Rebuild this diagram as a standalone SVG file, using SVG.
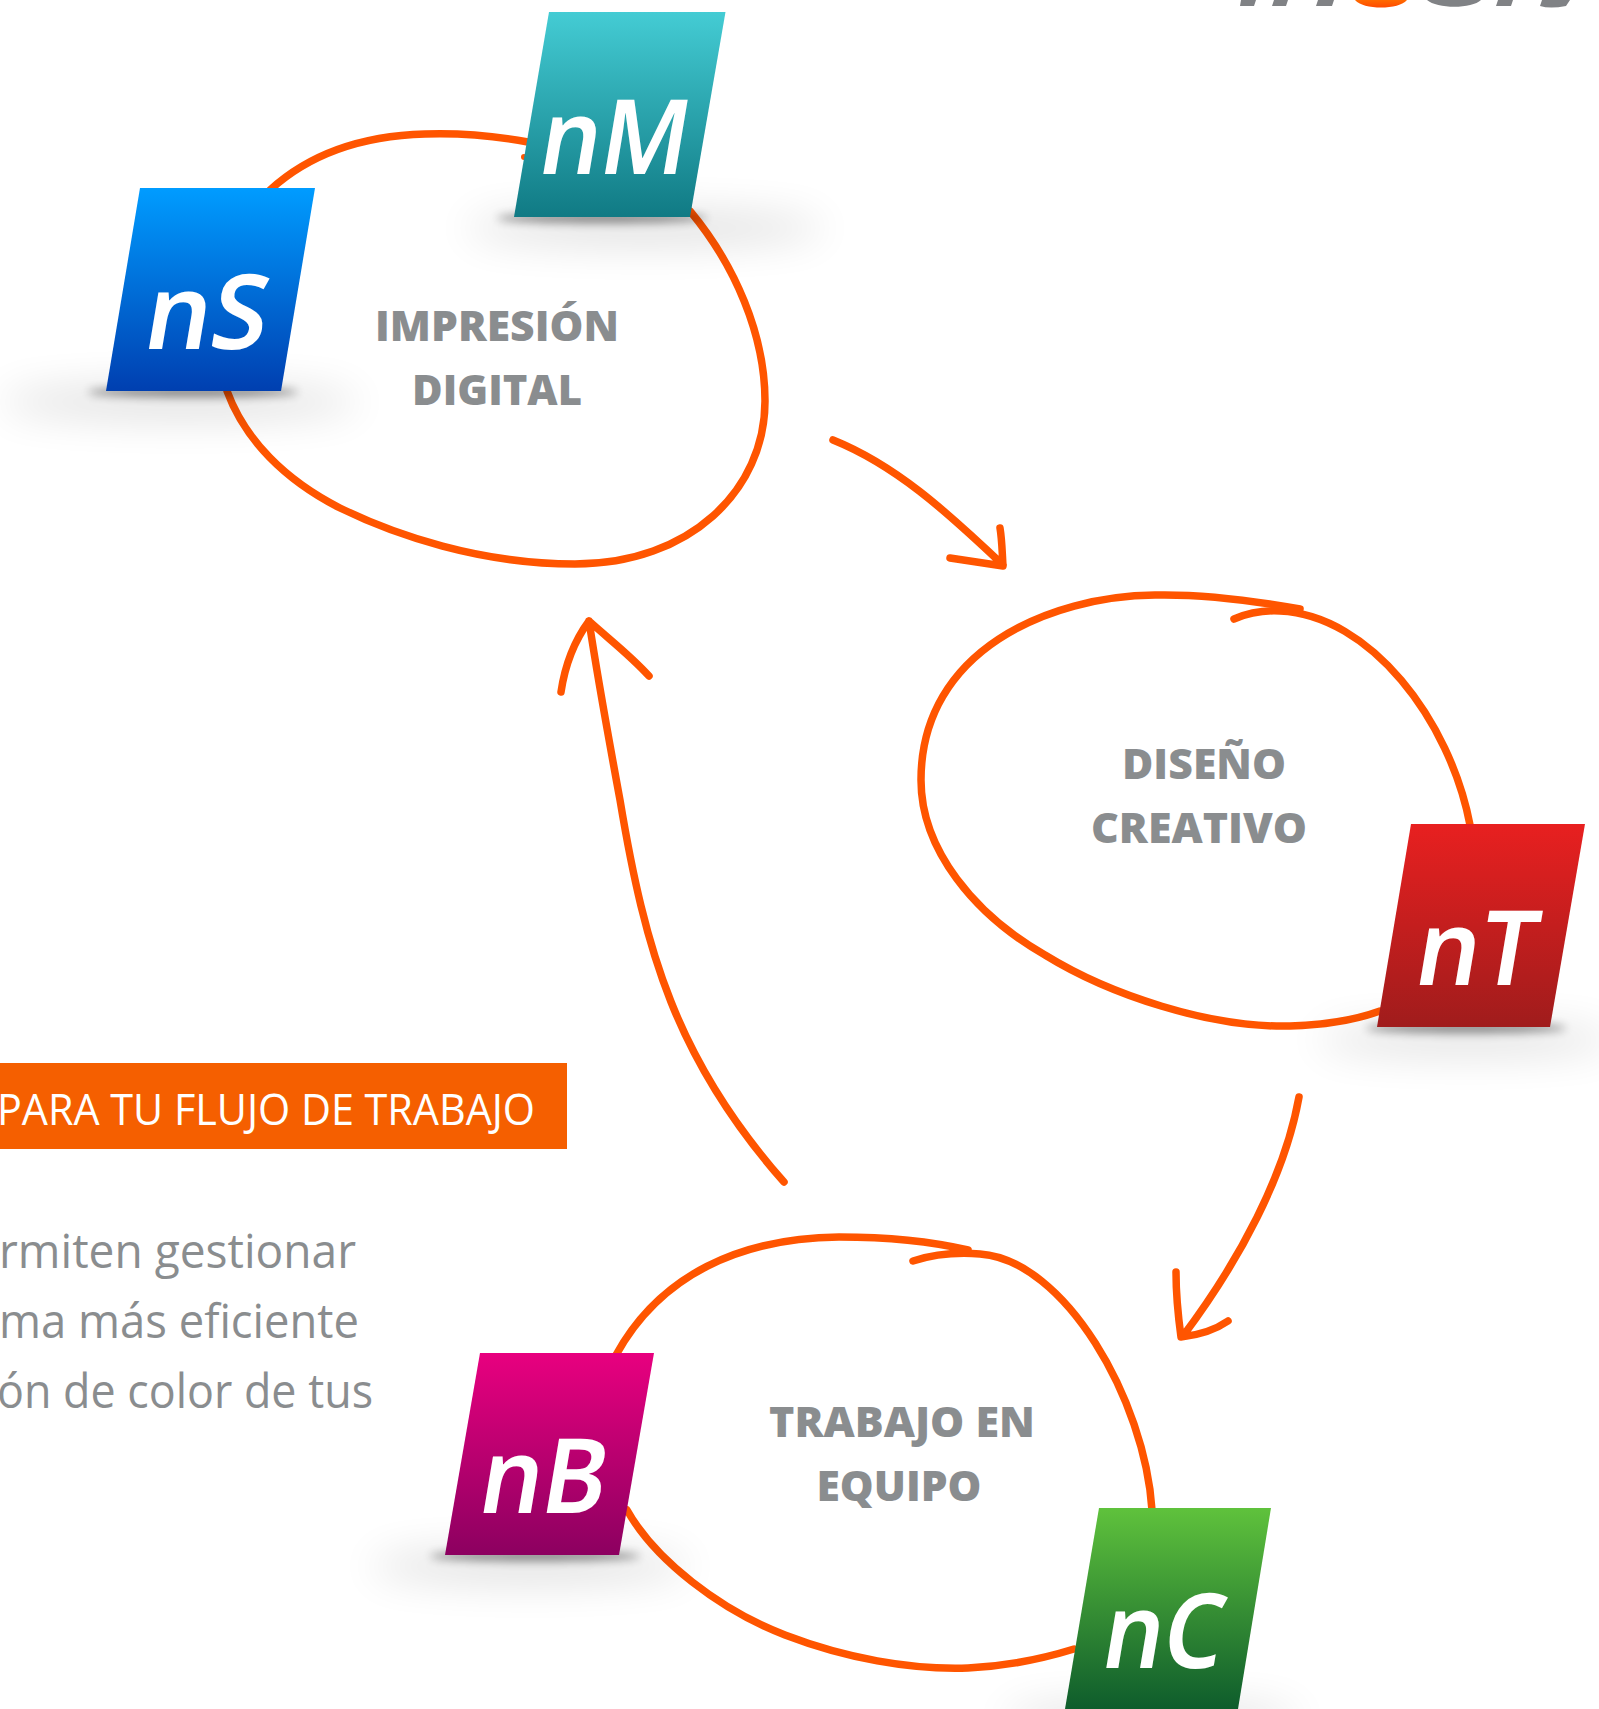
<svg xmlns="http://www.w3.org/2000/svg" width="1599" height="1709" viewBox="0 0 1599 1709">
<style>
.c{fill:none;stroke:#ff5500;stroke-width:7.5;stroke-linecap:round;stroke-linejoin:round}
.l{font-family:"Open Sans",sans-serif;font-weight:800;font-size:43px;fill:#8a8d8f;text-anchor:middle}
.b{font-family:"Open Sans",sans-serif;font-weight:400;font-size:48px;fill:#8a8d8f}
.t{font-family:"Noto Sans",sans-serif;font-weight:600;font-size:104px;fill:#fff}
</style>
<defs>
<filter id="s1" x="-50%" y="-300%" width="200%" height="700%"><feGaussianBlur stdDeviation="5"/></filter>
<filter id="s2" x="-50%" y="-300%" width="200%" height="700%"><feGaussianBlur stdDeviation="20"/></filter>
<linearGradient id="gS" x1="0" y1="0" x2="0" y2="1"><stop offset="0" stop-color="#009cff"/><stop offset="1" stop-color="#003fb0"/></linearGradient>
<linearGradient id="gM" x1="0" y1="0" x2="0" y2="1"><stop offset="0" stop-color="#44ccd4"/><stop offset="1" stop-color="#107a84"/></linearGradient>
<linearGradient id="gT" x1="0" y1="0" x2="0" y2="1"><stop offset="0" stop-color="#e82020"/><stop offset="1" stop-color="#a01c1c"/></linearGradient>
<linearGradient id="gB" x1="0" y1="0" x2="0" y2="1"><stop offset="0" stop-color="#e8007f"/><stop offset="1" stop-color="#8c0060"/></linearGradient>
<linearGradient id="gC" x1="0" y1="0" x2="0" y2="1"><stop offset="0" stop-color="#5fc23c"/><stop offset="1" stop-color="#0e5c2c"/></linearGradient>
<linearGradient id="gO" x1="0" y1="0" x2="0" y2="1"><stop offset="0" stop-color="#ff6a00"/><stop offset="1" stop-color="#ff4a00"/></linearGradient>
</defs>
<rect width="1599" height="1709" fill="#fff"/>
<g id="connectors">
<path class="c" d="M690,211C735,265 765,335 765,401C765,490 690,564 575,564C480,564 395,535 340,508C285,480 245,440 227,391"/>
<path class="c" d="M528,142C490,135 455,133 425,134C355,136 305,158 270,190"/>
<circle cx="524" cy="157" r="3" fill="#ff5500"/>
<path class="c" d="M1470,825C1450,720 1370,615 1280,611C1262,610 1248,613 1234,619"/>
<path class="c" d="M1300,609C1250,600 1200,594 1155,595C1050,596 921,650 921,780C921,850 975,915 1045,955C1110,995 1210,1028 1290,1026C1325,1025 1355,1020 1380,1011"/>
<path class="c" d="M1152,1510C1145,1400 1065,1260 980,1254C955,1252 935,1254 913,1261"/>
<path class="c" d="M968,1250C925,1240 880,1237 839,1237C740,1238 660,1275 616,1355"/>
<path class="c" d="M627,1510C655,1560 720,1610 785,1635C845,1658 910,1670 968,1668C1010,1666 1045,1658 1074,1649"/>
<path class="c" d="M833,440C895,465 945,510 1003,565M950,558L1003,566C1002,550 1002,540 1000,528"/>
<path class="c" d="M1299,1097C1285,1175 1240,1260 1183,1336M1176,1272C1176,1295 1178,1315 1181,1337C1200,1335 1215,1330 1228,1321"/>
<path class="c" d="M784,1182C676,1060 645,950 620,800C608,735 598,680 589,621M561,692C565,665 575,640 589,621C610,640 630,655 649,676"/>
</g>
<g id="shadows">
<ellipse cx="180" cy="402" rx="180" ry="16" fill="#000" opacity=".13" filter="url(#s2)"/>
<ellipse cx="193" cy="392" rx="105" ry="5" fill="#000" opacity=".45" filter="url(#s1)"/>
<ellipse cx="645" cy="228" rx="180" ry="16" fill="#000" opacity=".13" filter="url(#s2)"/>
<ellipse cx="602" cy="218" rx="105" ry="5" fill="#000" opacity=".45" filter="url(#s1)"/>
<ellipse cx="1466" cy="1040" rx="150" ry="14" fill="#000" opacity=".13" filter="url(#s2)"/>
<ellipse cx="1466" cy="1028" rx="100" ry="5" fill="#000" opacity=".45" filter="url(#s1)"/>
<ellipse cx="530" cy="1566" rx="160" ry="16" fill="#000" opacity=".13" filter="url(#s2)"/>
<ellipse cx="535" cy="1556" rx="105" ry="5" fill="#000" opacity=".45" filter="url(#s1)"/>
<ellipse cx="1152" cy="1718" rx="150" ry="14" fill="#000" opacity=".13" filter="url(#s2)"/>
</g>
<g id="logo-fragment">
<path fill="#808285" d="M1241,0h15l-2,6h-14zM1274,0h14l-2,6h-14zM1318,0h16l-2,6h-16zM1498,0h15l-2,6h-15z"/>
<path fill="#808285" d="M1427,0C1437,9 1472,9 1481,0zM1542,0h28l-4,6q-16,3 -26,0z"/>
<path fill="url(#gO)" d="M1355,0h52c-8,10 -44,10 -52,0z"/>
</g>
<g id="nS">
<polygon points="140,188 315,188 281,391 106,391" fill="url(#gS)"/>
<text class="t" transform="translate(141 349) skewX(-9.5)" textLength="122" lengthAdjust="spacingAndGlyphs">nS</text>
</g>
<g id="nM">
<polygon points="549,12 725.5,12 690,217 514,217" fill="url(#gM)"/>
<text class="t" transform="translate(536 174) skewX(-9.5)" textLength="148" lengthAdjust="spacingAndGlyphs">nM</text>
</g>
<g id="nT">
<polygon points="1411,824 1585,824 1550,1027 1377,1027" fill="url(#gT)"/>
<text class="t" transform="translate(1412 985) skewX(-9.5)" textLength="120" lengthAdjust="spacingAndGlyphs">nT</text>
</g>
<g id="nB">
<polygon points="480,1353 654,1353 619,1555 445,1555" fill="url(#gB)"/>
<text class="t" transform="translate(476 1513) skewX(-9.5)" textLength="126" lengthAdjust="spacingAndGlyphs">nB</text>
</g>
<g id="nC">
<polygon points="1099,1508 1271,1508 1238,1709 1065,1709" fill="url(#gC)"/>
<text class="t" transform="translate(1099 1668) skewX(-9.5)" textLength="120" lengthAdjust="spacingAndGlyphs">nC</text>
</g>
<g id="label-impresion">
<text class="l" x="497" y="341" textLength="244" lengthAdjust="spacingAndGlyphs">IMPRESIÓN</text>
<text class="l" x="497" y="405" textLength="170" lengthAdjust="spacingAndGlyphs">DIGITAL</text>
</g>
<g id="label-diseno">
<text class="l" x="1204" y="779" textLength="164" lengthAdjust="spacingAndGlyphs">DISEÑO</text>
<text class="l" x="1199" y="843" textLength="216" lengthAdjust="spacingAndGlyphs">CREATIVO</text>
</g>
<g id="label-trabajo">
<text class="l" x="902" y="1437" textLength="266" lengthAdjust="spacingAndGlyphs">TRABAJO EN</text>
<text class="l" x="899" y="1501" textLength="165" lengthAdjust="spacingAndGlyphs">EQUIPO</text>
</g>
<g id="banner">
<rect x="0" y="1063" width="567" height="86" fill="#f55f00"/>
<text x="-3" y="1125" font-family="Open Sans, sans-serif" font-size="44" fill="#fff" textLength="538" lengthAdjust="spacingAndGlyphs">PARA TU FLUJO DE TRABAJO</text>
</g>
<g id="body">
<text class="b" x="-1" y="1268" textLength="357" lengthAdjust="spacingAndGlyphs">rmiten gestionar</text>
<text class="b" x="-1" y="1338" textLength="360" lengthAdjust="spacingAndGlyphs">ma más eficiente</text>
<text class="b" x="-3" y="1408" textLength="376" lengthAdjust="spacingAndGlyphs">ón de color de tus</text>
</g>
</svg>
